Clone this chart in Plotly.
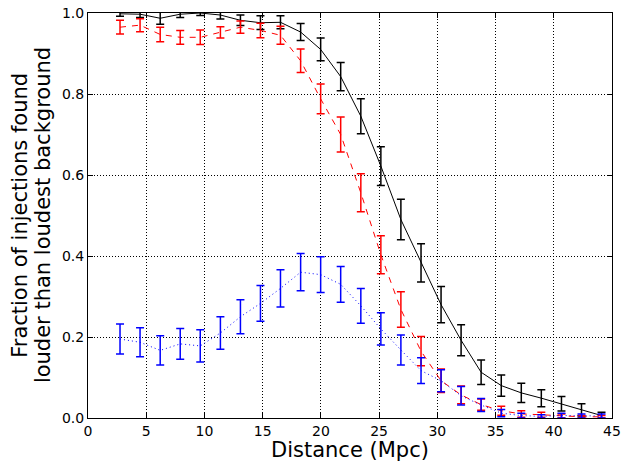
import plotly.graph_objects as go

distance = [2.75, 4.47, 6.20, 7.92, 9.64, 11.37, 13.09, 14.81, 16.53, 18.26, 19.98, 21.70,
            23.43, 25.15, 26.87, 28.60, 30.32, 32.04, 33.76, 35.49, 37.21, 38.93, 40.66, 42.38, 44.10]

black_y = [0.998, 0.997, 0.987, 0.997, 1.0, 0.995, 0.982, 0.976, 0.977, 0.953, 0.910, 0.843,
           0.745, 0.622, 0.490, 0.383, 0.280, 0.192, 0.113, 0.080, 0.062, 0.049, 0.035, 0.020, 0.006]
black_err = [0.006, 0.008, 0.015, 0.008, 0.006, 0.010, 0.013, 0.017, 0.016, 0.021, 0.028, 0.035,
             0.043, 0.048, 0.050, 0.047, 0.045, 0.038, 0.030, 0.026, 0.024, 0.021, 0.018, 0.015, 0.008]

red_y = [0.965, 0.970, 0.947, 0.940, 0.940, 0.952, 0.965, 0.957, 0.945, 0.882, 0.788, 0.700,
         0.556, 0.403, 0.268, 0.165, 0.092, 0.057, 0.033, 0.018, 0.010, 0.008, 0.005, 0.003, 0.003]
red_err = [0.017, 0.016, 0.018, 0.017, 0.018, 0.014, 0.015, 0.018, 0.022, 0.029, 0.037, 0.043,
           0.047, 0.047, 0.044, 0.036, 0.029, 0.022, 0.014, 0.011, 0.008, 0.006, 0.005, 0.003, 0.003]

blue_y = [0.195, 0.187, 0.167, 0.183, 0.178, 0.210, 0.250, 0.283, 0.320, 0.360, 0.354, 0.330,
          0.277, 0.220, 0.168, 0.117, 0.092, 0.055, 0.032, 0.012, 0.006, 0.004, 0.006, 0.005, 0.005]
blue_err = [0.037, 0.036, 0.036, 0.038, 0.040, 0.040, 0.042, 0.044, 0.046, 0.046, 0.044, 0.044,
            0.043, 0.040, 0.037, 0.032, 0.027, 0.023, 0.016, 0.009, 0.006, 0.004, 0.006, 0.005, 0.005]

x_ticks = [0, 5, 10, 15, 20, 25, 30, 35, 40, 45]
y_ticks = [0.0, 0.2, 0.4, 0.6, 0.8, 1.0]

FONT = "DejaVu Sans"

fig = go.Figure()
series = [
    (black_y, black_err, "black", "solid"),
    (red_y, red_err, "red", "6px,6px"),
    (blue_y, blue_err, "blue", "1px,3px"),
]
for ys, es, col, dash in series:
    fig.add_trace(go.Scatter(
        x=distance, y=ys, mode="lines",
        line=dict(color=col, width=1, dash=dash),
        error_y=dict(type="data", array=es, visible=True, color=col, thickness=1.5, width=4),
        showlegend=False,
    ))

axis_common = dict(
    showline=True, linecolor="black", linewidth=1, mirror="allticks",
    ticks="inside", ticklen=5, tickcolor="black", tickwidth=1,
    showgrid=True, gridcolor="black", gridwidth=1, griddash="1px,2px",
    zeroline=False, automargin=False,
    tickfont=dict(family=FONT, size=14, color="black"),
)

fig.update_xaxes(range=[0, 45], tickvals=x_ticks, ticktext=[str(v) for v in x_ticks],
                 ticklabelstandoff=0, **axis_common)
fig.update_yaxes(range=[0, 1], tickvals=y_ticks, ticktext=["%.1f" % v for v in y_ticks],
                 ticklabelstandoff=0, **axis_common)

fig.add_annotation(text="Distance (Mpc)", xref="paper", yref="paper", x=0.5, y=-0.078,
                   xanchor="center", yanchor="middle", showarrow=False,
                   font=dict(family=FONT, size=21, color="black"))
fig.add_annotation(text="Fraction of injections found", xref="paper", yref="paper",
                   x=-0.1311, y=0.5, xanchor="center", yanchor="middle", textangle=-90,
                   showarrow=False, font=dict(family=FONT, size=21, color="black"))
fig.add_annotation(text="louder than loudest background", xref="paper", yref="paper",
                   x=-0.0866, y=0.5, xanchor="center", yanchor="middle", textangle=-90,
                   showarrow=False, font=dict(family=FONT, size=21, color="black"))

fig.update_layout(
    width=622, height=461,
    margin=dict(l=88, r=10, t=13, b=43, autoexpand=False),
    paper_bgcolor="white", plot_bgcolor="white",
    font=dict(family=FONT, color="black"),
)

fig.write_html("out.html")
